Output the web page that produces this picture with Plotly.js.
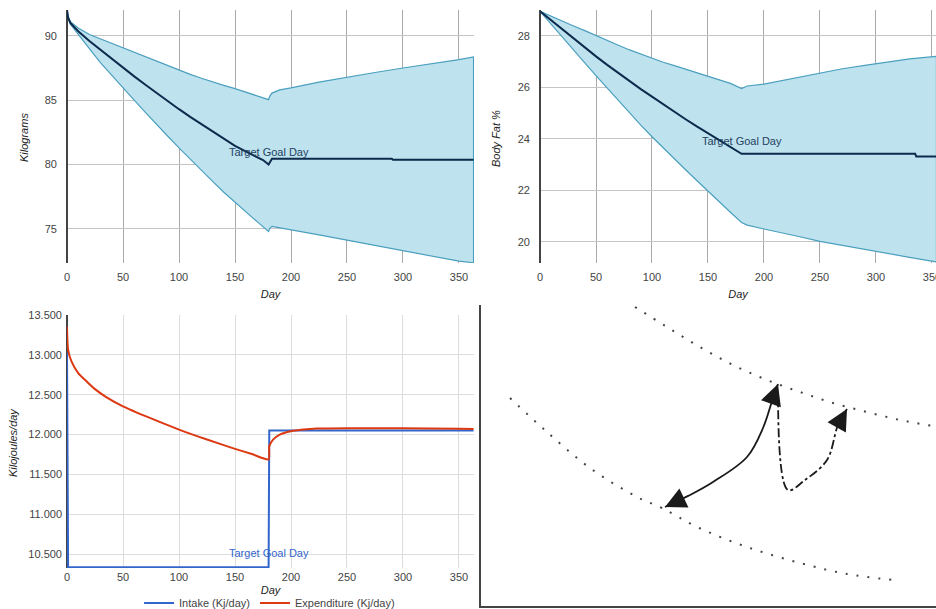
<!DOCTYPE html>
<html><head><meta charset="utf-8">
<script src="https://cdn.plot.ly/plotly-3.0.1.min.js"></script>
<style>html,body{margin:0;padding:0;background:#fff}#chart{width:936px;height:609px}</style>
</head><body><div id="chart"></div>
<script>
// ---- Weight (kg) ----
const weightDays  = [0,1,3,10,20,30,40,50,60,70,80,90,100,110,120,130,140,150,160,170,180,181,183,190,200,225,250,275,300,325,350,363];
const weightUpper = [92.0,91.5,91.1,90.6,90.1,89.75,89.4,89.05,88.7,88.35,88.0,87.65,87.3,87.0,86.7,86.4,86.15,85.9,85.6,85.3,85.04,85.3,85.55,85.8,85.95,86.4,86.8,87.15,87.5,87.8,88.15,88.35];
const weightLower = [92.0,91.4,90.9,90.1,89.0,87.9,86.9,85.95,85.0,84.05,83.1,82.2,81.3,80.4,79.55,78.7,77.85,77.05,76.3,75.55,74.8,75.05,75.2,75.1,74.95,74.55,74.13,73.7,73.28,72.9,72.5,72.38];
const weightMidDays = [0,1,3,10,20,30,40,50,60,70,80,90,100,110,120,130,140,150,160,170,175,180,182,183,290,291,363];
const weightMid     = [92.0,91.4,91.0,90.35,89.6,88.9,88.2,87.5,86.85,86.2,85.55,84.9,84.3,83.7,83.15,82.55,82.0,81.45,81.0,80.6,80.35,80.0,80.35,80.45,80.45,80.37,80.37];

// ---- Body fat (%) ----
const bfDays  = [0,10,20,30,40,50,60,70,80,90,100,110,120,130,140,150,160,170,180,185,200,215,230,250,270,290,310,330,354];
const bfUpper = [28.95,28.75,28.55,28.38,28.2,28.0,27.8,27.63,27.45,27.28,27.12,26.97,26.84,26.7,26.57,26.45,26.3,26.15,25.95,26.05,26.12,26.25,26.4,26.57,26.72,26.85,26.98,27.1,27.2];
const bfLower = [28.95,28.45,27.95,27.45,26.95,26.45,25.95,25.47,25.0,24.53,24.08,23.64,23.22,22.8,22.38,21.95,21.55,21.15,20.75,20.65,20.5,20.35,20.22,20.02,19.85,19.7,19.55,19.4,19.22];
const bfMidDays = [0,10,20,30,40,50,60,70,80,90,100,110,120,130,140,150,160,170,180,335,336,354];
const bfMid     = [28.95,28.6,28.22,27.87,27.52,27.2,26.87,26.55,26.24,25.93,25.64,25.34,25.05,24.76,24.48,24.22,23.95,23.68,23.42,23.42,23.31,23.31];

// ---- Energy (kJ/day) ----
const expDays = [0,1,4,10,18,25,35,50,74,100,125,150,165,180,180.6,184,190,200,211,223,250,300,350,363];
const expVals = [13354,13062,12917,12771,12660,12570,12470,12354,12208,12062,11937,11820,11755,11688,11854,11937,12000,12041,12062,12075,12080,12078,12072,12070];
const intakeDays = [0,1,180,180.6,363];
const intakeVals = [13030,10335,10335,12050,12050];

const goalDay = 180;
const goalLabel = 'Target Goal Day';

// ---- Diagram (bottom right) ----
const diagUpperX = [635,667,700,733,767,800,833,867,900,933];
const diagUpperY = [307,327,347,365,380,392,403,412,420,426];
const diagLowerX = [510,547,590,637,662,697,747,800,847,893];
const diagLowerY = [398,432,468,497,508,527,547,563,574,580];
const solidArcX = [665,690,713,747,763,773,778];
const solidArcY = [507,495,482,457,428,398,384];
const dashArcX = [778,788,805,827,838,847];
const dashArcY = [392,490,480,460,425,409];

const W = 936, H = 609;
const fx = p => p / W, fy = p => 1 - p / H;
const FAM = 'Liberation Sans, Arial, sans-serif';

const bandFill = 'rgba(190,227,238,1)';
const bandLine = '#4a9fbe';
const midLine = '#0c2a4c';

function band(days, up, lo, xa, ya) {
  const x = days.concat(days.slice().reverse());
  const y = up.concat(lo.slice().reverse());
  return {x, y, xaxis: xa, yaxis: ya, type: 'scatter', mode: 'lines', fill: 'toself',
    fillcolor: bandFill, line: {color: bandLine, width: 1.2}, showlegend: false, hoverinfo: 'skip'};
}

const traces = [
  band(weightDays, weightUpper, weightLower, 'x', 'y'),
  {x: weightMidDays, y: weightMid, xaxis: 'x', yaxis: 'y', type: 'scatter', mode: 'lines',
   line: {color: midLine, width: 2}, showlegend: false},
  band(bfDays, bfUpper, bfLower, 'x2', 'y2'),
  {x: bfMidDays, y: bfMid, xaxis: 'x2', yaxis: 'y2', type: 'scatter', mode: 'lines',
   line: {color: midLine, width: 2}, showlegend: false},
  {x: intakeDays, y: intakeVals, xaxis: 'x3', yaxis: 'y3', type: 'scatter', mode: 'lines',
   name: 'Intake (Kj/day)', line: {color: '#3366cc', width: 2}},
  {x: expDays, y: expVals, xaxis: 'x3', yaxis: 'y3', type: 'scatter', mode: 'lines',
   name: 'Expenditure (Kj/day)', line: {color: '#dc3912', width: 2, shape: 'spline', smoothing: 0.6}},
  {x: diagUpperX, y: diagUpperY, xaxis: 'x4', yaxis: 'y4', type: 'scatter', mode: 'lines',
   line: {color: '#444', width: 2, dash: '2px,9px', shape: 'spline'}, showlegend: false},
  {x: diagLowerX, y: diagLowerY, xaxis: 'x4', yaxis: 'y4', type: 'scatter', mode: 'lines',
   line: {color: '#444', width: 2, dash: '2px,9px', shape: 'spline'}, showlegend: false},
  {x: solidArcX, y: solidArcY, xaxis: 'x4', yaxis: 'y4', type: 'scatter', mode: 'lines',
   line: {color: '#1a1a1a', width: 1.8, shape: 'spline'}, showlegend: false},
  {x: dashArcX, y: dashArcY, xaxis: 'x4', yaxis: 'y4', type: 'scatter', mode: 'lines',
   line: {color: '#1a1a1a', width: 1.8, dash: 'dashdot', shape: 'spline'}, showlegend: false}
];

const tickFont = {family: FAM, size: 11, color: '#444'};
const titleFont = {family: FAM, size: 11, color: '#222', style: 'italic'};

function xAx(dom, rng, gc, anchor, lblOff, titleOff) {
  return {domain: dom, range: rng, anchor: anchor, tickvals: [0,50,100,150,200,250,300,350],
    showgrid: true, gridcolor: gc, zeroline: true, zerolinecolor: '#444', zerolinewidth: 1.5,
    showline: false, ticks: '', tickfont: tickFont, automargin: false, fixedrange: true,
    ticklabelstandoff: lblOff, ticklabeloverflow: 'allow',
    title: {text: 'Day', font: titleFont, standoff: titleOff}};
}
function yAx(dom, rng, tv, gc, anchor, lblOff, extra) {
  return Object.assign({domain: dom, range: rng, anchor: anchor, tickvals: tv,
    showgrid: true, gridcolor: gc, zeroline: false, showline: false, ticks: '',
    tickfont: tickFont, automargin: false, fixedrange: true, ticklabelstandoff: lblOff}, extra || {});
}
function yTitle(text, px, py) {
  return {x: fx(px), y: fy(py), xref: 'paper', yref: 'paper', text: text, textangle: -90,
    showarrow: false, xanchor: 'center', yanchor: 'middle', font: titleFont};
}

function arrowEnd(xs, ys) {
  const n = xs.length - 1;
  return {x: xs[n], y: ys[n], ax: xs[n - 1], ay: ys[n - 1], xref: 'x4', yref: 'y4',
    axref: 'x4', ayref: 'y4', text: '', showarrow: true, arrowhead: 2, arrowsize: 3,
    arrowwidth: 1.4, arrowcolor: '#1a1a1a', standoff: 0};
}
function arrowStart(xs, ys) {
  return {x: xs[0], y: ys[0], ax: xs[1], ay: ys[1], xref: 'x4', yref: 'y4',
    axref: 'x4', ayref: 'y4', text: '', showarrow: true, arrowhead: 2, arrowsize: 3,
    arrowwidth: 1.4, arrowcolor: '#1a1a1a', standoff: 0};
}

const layout = {
  width: W, height: H, autosize: false,
  margin: {l: 0, r: 0, t: 0, b: 0, autoexpand: false},
  paper_bgcolor: '#fff', plot_bgcolor: '#fff',
  separators: ',.',
  hovermode: false,
  font: {family: FAM, size: 11, color: '#444'},
  xaxis:  xAx([fx(67), fx(474)], [0, 363.4], '#aaaaaa', 'y', 6, 8),
  yaxis:  yAx([fy(263), fy(10)], [72.36, 92.0], [75,80,85,90], '#c4c4c4', 'x', 9),
  xaxis2: xAx([fx(540), 1], [0, 353.6], '#aaaaaa', 'y2', 6, 8),
  yaxis2: yAx([fy(263), fy(10)], [19.18, 29.0], [20,22,24,26,28], '#c4c4c4', 'x2', 9),
  xaxis3: xAx([fx(67), fx(474)], [0, 363.4], '#dddddd', 'y3', 1, 4),
  yaxis3: yAx([fy(568), fy(315)], [10325, 13500], [10500,11000,11500,12000,12500,13000,13500], '#dddddd', 'x3', 4, {tickformat: ',.0f'}),
  xaxis4: {domain: [fx(481), 1], range: [481, 936], anchor: 'y4', showgrid: false, zeroline: false,
    showline: true, linecolor: '#444', linewidth: 2, showticklabels: false, ticks: '', fixedrange: true},
  yaxis4: {domain: [3 / H, fy(305)], range: [606, 305], anchor: 'x4', showgrid: false, zeroline: false,
    showline: true, linecolor: '#444', linewidth: 2, showticklabels: false, ticks: '', fixedrange: true},
  legend: {orientation: 'h', x: 0.288, xanchor: 'center', y: 6 / H, yanchor: 'middle',
    font: {family: FAM, size: 11, color: '#444'}, bgcolor: 'rgba(0,0,0,0)'},
  annotations: [
    yTitle('Kilograms', 24, 138),
    yTitle('Body Fat %', 496, 139),
    yTitle('Kilojoules/day', 13, 443),
    {x: goalDay, y: 81.0, xref: 'x', yref: 'y', text: goalLabel, showarrow: false,
     font: {family: FAM, size: 11, color: '#23415f'}},
    {x: goalDay, y: 23.93, xref: 'x2', yref: 'y2', text: goalLabel, showarrow: false,
     font: {family: FAM, size: 11, color: '#23415f'}},
    {x: goalDay, y: 10513, xref: 'x3', yref: 'y3', text: goalLabel, showarrow: false,
     font: {family: FAM, size: 11, color: '#3366cc'}},
    arrowEnd(solidArcX, solidArcY),
    arrowStart(solidArcX, solidArcY),
    arrowEnd(dashArcX, dashArcY)
  ]
};

Plotly.newPlot('chart', traces, layout, {displayModeBar: false, staticPlot: true});
</script>
</body></html>
